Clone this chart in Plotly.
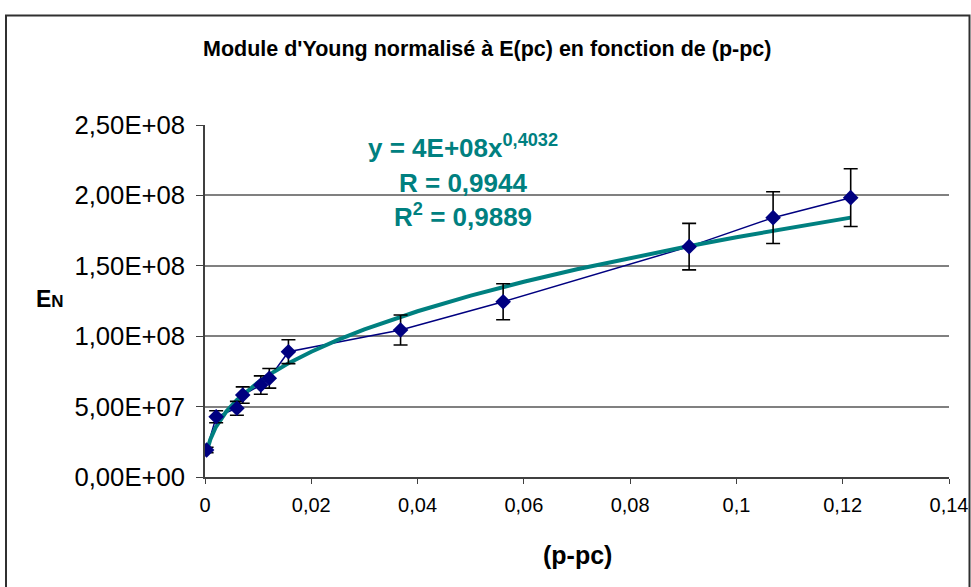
import plotly.graph_objects as go

# Data
x_vals = [0.0003, 0.0021, 0.0060, 0.0071, 0.0105, 0.0121, 0.0157, 0.0368, 0.0561, 0.0911, 0.1069, 0.1215]
y_vals = [1.92e7, 4.28e7, 4.88e7, 5.82e7, 6.53e7, 7.01e7, 8.90e7, 1.044e8, 1.245e8, 1.636e8, 1.842e8, 1.984e8]
y_err = [1.9e6, 4.3e6, 4.9e6, 5.8e6, 6.5e6, 7.0e6, 8.5e6, 1.07e7, 1.28e7, 1.65e7, 1.84e7, 2.05e7]

# Power trendline as drawn
trend_x = [0.0003, 0.001, 0.002, 0.004, 0.006, 0.008, 0.010, 0.013, 0.016, 0.020, 0.025,
           0.030, 0.040, 0.050, 0.060, 0.070, 0.080, 0.090, 0.100, 0.110, 0.1215]
trend_y = [1.8e7, 2.66e7, 3.52e7, 4.65e7, 5.48e7, 6.15e7, 6.73e7, 7.48e7, 8.14e7, 8.90e7, 9.74e7,
           1.048e8, 1.177e8, 1.288e8, 1.387e8, 1.475e8, 1.556e8, 1.632e8, 1.703e8, 1.770e8, 1.842e8]

x_ticks = [0, 0.02, 0.04, 0.06, 0.08, 0.10, 0.12, 0.14]
x_tick_labels = ["0", "0,02", "0,04", "0,06", "0,08", "0,1", "0,12", "0,14"]
y_ticks = [0, 5e7, 1e8, 1.5e8, 2e8, 2.5e8]
y_tick_labels = ["0,00E+00", "5,00E+07", "1,00E+08", "1,50E+08", "2,00E+08", "2,50E+08"]

title_text = "Module d'Young normalisé à E(pc) en fonction de (p-pc)"
eq_lines = ["y = 4E+08x<sup>0,4032</sup>", "R = 0,9944", "R<sup>2</sup> = 0,9889"]

FONT = "Arial, 'Liberation Sans', sans-serif"
NAVY = "#000080"
TEAL = "#008080"

W, H = 971, 587
L, R, T, B = 205, 22, 125, 110
pw, ph = W - L - R, H - T - B

def px(xp):
    return (xp - L) / pw

def py(yp):
    return (H - B - yp) / ph

fig = go.Figure()
fig.add_trace(go.Scatter(x=x_vals, y=y_vals, mode="lines",
                         line=dict(color=NAVY, width=1.5), showlegend=False, hoverinfo="skip"))
fig.add_trace(go.Scatter(x=trend_x, y=trend_y, mode="lines",
                         line=dict(color=TEAL, width=4), showlegend=False, hoverinfo="skip"))
fig.add_trace(go.Scatter(x=x_vals, y=y_vals, mode="markers",
                         marker=dict(symbol="diamond", size=12, color=NAVY),
                         error_y=dict(type="data", array=y_err, visible=True,
                                      color="black", thickness=1.6, width=7),
                         showlegend=False))

fig.update_layout(
    width=W, height=H, autosize=False,
    margin=dict(l=L, r=R, t=T, b=B),
    paper_bgcolor="white", plot_bgcolor="white",
    font=dict(family=FONT, color="black"),
    xaxis=dict(range=[0, 0.14], tickvals=x_ticks, ticktext=x_tick_labels, automargin=False,
               showgrid=False, zeroline=False, showline=True, linecolor="#404040", linewidth=1.5,
               ticks="outside", ticklen=5, tickcolor="#404040", tickwidth=1.2,
               ticklabelstandoff=4,
               tickfont=dict(size=20, family=FONT, color="black")),
    yaxis=dict(range=[0, 2.5e8], tickvals=y_ticks, ticktext=y_tick_labels, automargin=False,
               showgrid=True, gridcolor="#808080", gridwidth=1.5, zeroline=False,
               showline=True, linecolor="#404040", linewidth=1.5,
               ticks="outside", ticklen=7, tickcolor="#404040", tickwidth=1.2,
               ticklabelstandoff=6,
               tickfont=dict(size=25.7, family=FONT, color="black")),
)

annotations = [
    dict(text="<b>" + title_text + "</b>", x=px(487), y=py(49), xref="paper", yref="paper",
         showarrow=False, font=dict(size=21.5, family=FONT, color="black"), xanchor="center", yanchor="middle"),
    dict(text="<b>(p-pc)</b>", x=px(577), y=py(555), xref="paper", yref="paper",
         showarrow=False, font=dict(size=25, family=FONT, color="black"), xanchor="center", yanchor="middle"),
    dict(text="<b>E<span style='font-size:17px'>N</span></b>", x=px(50), y=py(299), xref="paper", yref="paper",
         showarrow=False, font=dict(size=23, family=FONT, color="black"), xanchor="center", yanchor="middle"),
]
for txt, yp in zip(eq_lines, [146, 183, 215]):
    annotations.append(dict(text="<b>" + txt + "</b>", x=px(463), y=py(yp), xref="paper", yref="paper",
                            showarrow=False, font=dict(size=26, family=FONT, color=TEAL),
                            xanchor="center", yanchor="middle"))
fig.update_layout(annotations=annotations)

# outer chart frame
fig.add_shape(type="rect", xref="paper", yref="paper",
              x0=px(6), x1=px(969.5), y0=py(620), y1=py(15.5),
              line=dict(color="#303030", width=2), fillcolor="rgba(0,0,0,0)", layer="above")

post = (
    "document.documentElement.style.overflow='hidden';"
    "document.body.style.margin='0';document.body.style.overflow='hidden';"
)
fig.write_html("out.html", config={"displayModeBar": False}, post_script=post)
